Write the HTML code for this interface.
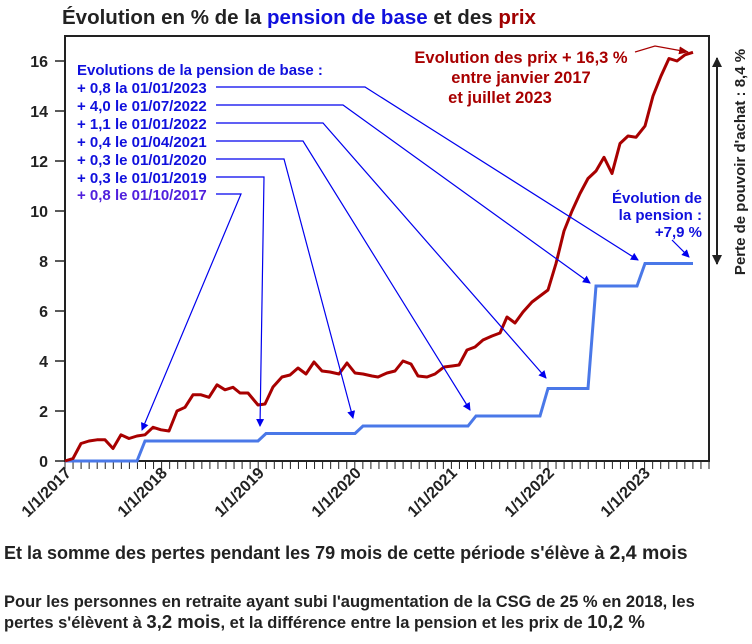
<!DOCTYPE html><html><head><meta charset="utf-8"><style>body{margin:0;background:#fff;width:752px;height:639px;overflow:hidden;font-family:"Liberation Sans",sans-serif}</style></head><body>
<svg width="752" height="639" xmlns="http://www.w3.org/2000/svg" font-family="Liberation Sans, sans-serif" font-weight="bold">
<defs>
<marker id="ab" markerWidth="8" markerHeight="8" refX="7" refY="4" orient="auto" markerUnits="userSpaceOnUse"><path d="M0,0 L8,4 L0,8 z" fill="#0000ee"/></marker>
<marker id="ar" markerWidth="10" markerHeight="8" refX="9" refY="4" orient="auto" markerUnits="userSpaceOnUse"><path d="M0,0 L10,4 L0,8 z" fill="#a00000"/></marker>
<marker id="ak" markerWidth="10" markerHeight="10" refX="9" refY="5" orient="auto" markerUnits="userSpaceOnUse"><path d="M0,0 L10,5 L0,10 z" fill="#222"/></marker>
<marker id="ak2" markerWidth="10" markerHeight="10" refX="1" refY="5" orient="auto" markerUnits="userSpaceOnUse"><path d="M10,0 L0,5 L10,10 z" fill="#222"/></marker>
</defs>
<text x="62" y="24" font-size="20.5" fill="#222">Évolution en % de la <tspan fill="#1010dd">pension de base</tspan> et des <tspan fill="#a00000">prix</tspan></text>
<rect x="65" y="36" width="644" height="425" fill="none" stroke="#222" stroke-width="2"/>
<g font-size="16" fill="#222" text-anchor="end">
<text x="48" y="467">0</text><text x="48" y="417">2</text><text x="48" y="367">4</text><text x="48" y="317">6</text><text x="48" y="267">8</text><text x="48" y="217">10</text><text x="48" y="167">12</text><text x="48" y="117">14</text><text x="48" y="67">16</text>
</g>
<g stroke="#222" stroke-width="1.5"><line x1="55" y1="461" x2="65" y2="461"/><line x1="55" y1="411" x2="65" y2="411"/><line x1="55" y1="361" x2="65" y2="361"/><line x1="55" y1="311" x2="65" y2="311"/><line x1="55" y1="261" x2="65" y2="261"/><line x1="55" y1="211" x2="65" y2="211"/><line x1="55" y1="161" x2="65" y2="161"/><line x1="55" y1="111" x2="65" y2="111"/><line x1="55" y1="61" x2="65" y2="61"/></g>
<g id="ticks" stroke="#222" stroke-width="1"></g>
<g font-size="16" fill="#222" text-anchor="end">
<text transform="translate(72,474) rotate(-45)">1/1/2017</text>
<text transform="translate(168,474) rotate(-45)">1/1/2018</text>
<text transform="translate(265,474) rotate(-45)">1/1/2019</text>
<text transform="translate(362,474) rotate(-45)">1/1/2020</text>
<text transform="translate(458,474) rotate(-45)">1/1/2021</text>
<text transform="translate(555,474) rotate(-45)">1/1/2022</text>
<text transform="translate(651,474) rotate(-45)">1/1/2023</text>
</g>
<polyline fill="none" stroke="#4a78e8" stroke-width="3" points="65,461 137,461 145,441 258,441 266,433.5 355,433.5 363,426 468,426 476,416 540,416 548,388.5 588,388.5 596,286 637,286 645,263.5 693,263.5"/>
<polyline fill="none" stroke="#a80000" stroke-width="3" stroke-linejoin="round" points="65,461 73,458.5 81,443.5 89,441 97,439.8 105,439.8 113,448.5 121,434.8 129,438.5 137,436 145,434.8 153,427.3 161,429.8 169,431 177,411 185,407.3 193,394.8 201,394.8 209,397.3 217,384.8 225,389.8 233,387.3 240,393 248,393 258,405 265,404 273,387 282,377 290,375 298,368 306,374 314,362 322,371 330,372 339,374 347,363 355,373 363,374 372,376 378,377 387,373 395,371 403,361 411,364 418,376 427,377 435,374 444,367 452,366 459,365 467,350 475,347 483,340 492,336 500,333 507,317 515,323 523,312 532,302 540,296 548,290 556,263.5 564,231 572,211 580,193.5 588,178.5 596,171 604,157.3 612,173.5 620,143.5 628,136 636,137.3 645,126 653,96 661,76 669,58.5 677,61 685,54.8 693,52.3"/>
<g font-size="15" fill="#1010dd">
<text x="77" y="75">Evolutions de la pension de base :</text>
<text x="77" y="93">+ 0,8 la 01/01/2023</text>
<text x="77" y="111">+ 4,0 le 01/07/2022</text>
<text x="77" y="129">+ 1,1 le 01/01/2022</text>
<text x="77" y="147">+ 0,4 le 01/04/2021</text>
<text x="77" y="165">+ 0,3 le 01/01/2020</text>
<text x="77" y="183">+ 0,3 le 01/01/2019</text>
<text x="77" y="200" fill="#5020dd">+ 0,8 le 01/10/2017</text>
</g>
<g fill="none" stroke="#0000ee" stroke-width="1.2">
<polyline points="216,87 365,87 638,260" marker-end="url(#ab)"/>
<polyline points="216,105 343,105 590,283" marker-end="url(#ab)"/>
<polyline points="216,123 323,123 546,378" marker-end="url(#ab)"/>
<polyline points="216,141 303,141 470,410" marker-end="url(#ab)"/>
<polyline points="216,159 284,159 353,418" marker-end="url(#ab)"/>
<polyline points="216,177 264,177 260,426" marker-end="url(#ab)"/>
<polyline points="216,194 241,194 142,430" marker-end="url(#ab)"/>
<polyline points="672,240 689,257" marker-end="url(#ab)"/>
</g>
<g font-size="16.5" fill="#a80000" text-anchor="middle">
<text x="521" y="63">Evolution des prix + 16,3 %</text>
<text x="521" y="83">entre janvier 2017</text>
<text x="500" y="103">et juillet 2023</text>
</g>
<polyline points="635,52 655,46 688,52" fill="none" stroke="#a80000" stroke-width="1.2" marker-end="url(#ar)"/>
<g font-size="15" fill="#1010dd" text-anchor="end">
<text x="702" y="203">Évolution de</text>
<text x="702" y="220">la pension :</text>
<text x="702" y="237">+7,9 %</text>
</g>
<line x1="717" y1="58" x2="717" y2="264" stroke="#222" stroke-width="2" marker-end="url(#ak)" marker-start="url(#ak2)"/>
<text transform="translate(745,162) rotate(-90)" font-size="15" fill="#222" text-anchor="middle">Perte de pouvoir d'achat : 8,4 %</text>
<text x="4" y="559" font-size="18" fill="#222">Et la somme des pertes pendant les 79 mois de cette période s'élève à <tspan font-size="19.5">2,4 mois</tspan></text>
<text x="4" y="607" font-size="16.5" fill="#222">Pour les personnes en retraite ayant subi l'augmentation de la CSG de 25 % en 2018, les</text>
<text x="4" y="628" font-size="16.5" fill="#222">pertes s'élèvent à <tspan font-size="18.5">3,2 mois</tspan>, et la différence entre la pension et les prix de <tspan font-size="18.5">10,2 %</tspan></text>
</svg>
<script>
var g=document.getElementById('ticks'),s='';
for(var i=0;i<=80;i++){var x=65+8.05*i;if(x>709)break;s+='<line x1="'+x+'" y1="461" x2="'+x+'" y2="469"/>';}
g.innerHTML=s;
</script>
</body></html>
